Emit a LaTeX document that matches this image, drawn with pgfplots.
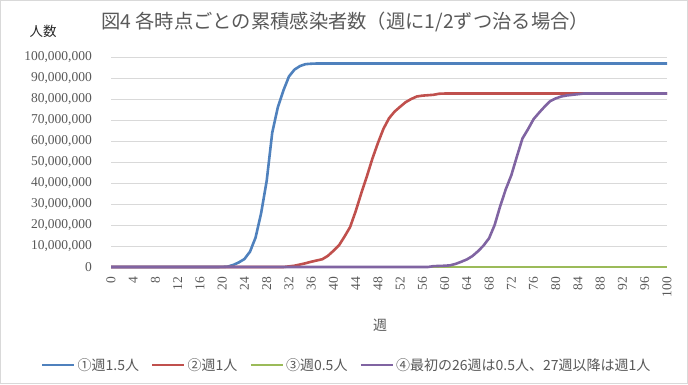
\documentclass[border=0pt]{standalone}
\usepackage{fontspec}
\setmainfont{Liberation Serif}
\newfontfamily\tickf{Liberation Serif}
\newfontfamily\jp{Noto Sans CJK JP}
\usepackage{pgfplots}
\pgfplotsset{compat=1.18}
\usepackage{pgfplotstable}
\definecolor{c1}{HTML}{4F81BD}
\definecolor{c2}{HTML}{C0504D}
\definecolor{c3}{HTML}{9BBB59}
\definecolor{c4}{HTML}{8064A2}
\definecolor{gridc}{HTML}{D9D9D9}
\definecolor{textc}{HTML}{595959}
\newcommand{\tf}{\tickf\fontsize{13.5}{15}\selectfont}

\pgfplotstableread{
x y
0 0
19 0
20 50000
21 200000
22 1000000
23 2200000
24 3800000
25 7300000
26 14000000
27 25600000
28 41000000
29 64000000
30 76000000
31 84000000
32 90700000
33 94000000
34 95700000
35 96600000
36 96800000
37 96900000
100 96900000
}\blueT

\pgfplotstableread{
x y
0 0
31 0
32 300000
33 600000
34 1200000
35 1800000
36 2500000
37 3100000
38 3700000
39 5300000
40 7700000
41 10300000
42 14500000
43 19000000
44 26500000
45 35000000
46 43000000
47 51500000
48 59000000
49 65800000
50 70800000
51 74000000
52 76300000
53 78500000
54 80000000
55 81200000
56 81600000
57 81800000
58 82000000
59 82500000
60 82600000
100 82600000
}\redT

\pgfplotstableread{
x y
0 0
100 0
}\greenT

\pgfplotstableread{
x y
0 0
57 0
58 400000
59 500000
60 600000
61 800000
62 1500000
63 2500000
64 3600000
65 5200000
66 7500000
67 10200000
68 13700000
69 20000000
70 29000000
71 37000000
72 43700000
73 52600000
74 61200000
75 65600000
76 70400000
77 73500000
78 76400000
79 79000000
80 80300000
81 81200000
82 81700000
83 82000000
84 82300000
85 82600000
100 82600000
}\purpleT

\begin{document}
\begin{tikzpicture}[x=1pt,y=1pt]
\path[use as bounding box] (0,0) rectangle (688,384);
\draw[gridc, line width=1pt] (0.5,0.5) rectangle (687.5,383.5);
\begin{axis}[
  at={(111pt,117pt)}, anchor=south west,
  scale only axis, width=556pt, height=210pt,
  xmin=0, xmax=100, ymin=0, ymax=100000000,
  clip=false,
  xtick={0,4,...,100},
  xticklabels={0,4,8,12,16,20,24,28,32,36,40,44,48,52,56,60,64,68,72,76,80,84,88,92,96,100},
  ytick={0,10000000,20000000,30000000,40000000,50000000,60000000,70000000,80000000,90000000,100000000},
  yticklabels={0,{10,000,000},{20,000,000},{30,000,000},{40,000,000},{50,000,000},{60,000,000},{70,000,000},{80,000,000},{90,000,000},{100,000,000}},
  scaled y ticks=false,
  yticklabel style={anchor=east, inner sep=0pt, font=\tf, text=textc},
  xticklabel style={rotate=90, anchor=east, inner sep=0pt, font=\tf, text=textc},
  yticklabel shift=19pt,
  xticklabel shift=10pt,
  major tick length=0pt,
  tick style={draw=none},
  ymajorgrids, grid style={gridc, line width=1pt},
  axis x line*=bottom, axis y line*=left,
  x axis line style={-, gridc, line width=1pt},
  y axis line style={draw=none},
  xlabel={\jp 週},
  xlabel style={at={(axis description cs:0.484,-0.276)}, anchor=center, font=\fontsize{14}{16}\selectfont, text=textc},
  legend style={draw=none, at={(axis description cs:0.424,-0.467)}, anchor=center,
    legend columns=4, font=\jp\fontsize{14}{16}\selectfont, text=textc,
    /tikz/every even column/.append style={column sep=10pt}},
  legend image code/.code={\draw[line width=2.6pt] (0pt,0pt) -- (32pt,0pt);},
]
\addplot[c1, line width=2.6pt, line join=round, no markers] table {\blueT};
\addlegendentry{①週1.5人}
\addplot[c2, line width=2.6pt, line join=round, no markers] table {\redT};
\addlegendentry{②週1人}
\addplot[c3, line width=2.6pt, line join=round, no markers] table {\greenT};
\addlegendentry{③週0.5人}
\addplot[c4, line width=2.6pt, line join=round, no markers] table {\purpleT};
\addlegendentry{④最初の26週は0.5人、27週以降は週1人}
\end{axis}
\node[anchor=west, inner sep=0pt, font=\jp\fontsize{19.3}{21}\selectfont, text=textc] at (101,362) {図4 各時点ごとの累積感染者数（週に1/2ずつ治る場合）};
\node[anchor=center, inner sep=0pt, font=\jp\fontsize{13.5}{15}\selectfont, text=black!85] at (43,353) {人数};
\end{tikzpicture}
\end{document}
